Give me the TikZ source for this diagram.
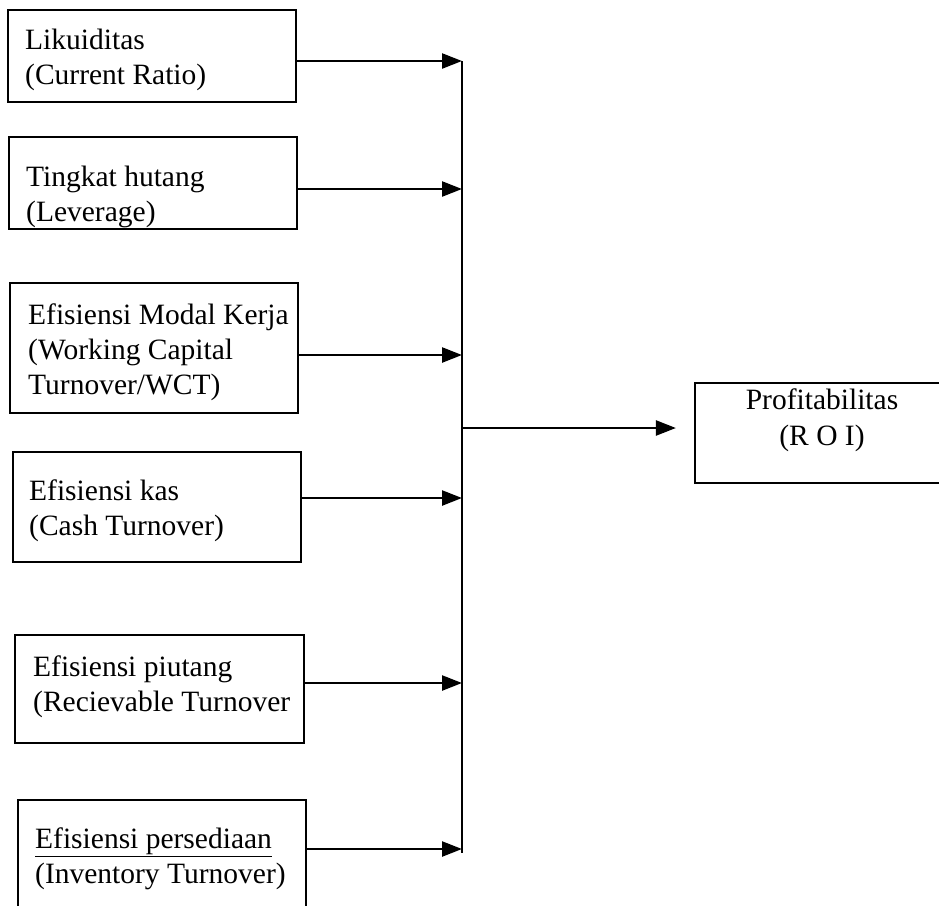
\documentclass[tikz,border=0pt]{standalone}
\usepackage{fontspec}
\setmainfont{Liberation Serif}
\usetikzlibrary{arrows.meta,calc}
\begin{document}
\begin{tikzpicture}[x=1pt,y=-1pt,
  boxnode/.style={draw,line width=2.2pt,inner sep=0pt},
  txt/.style={inner sep=0pt,anchor=west,align=left,font=\fontsize{29.5}{35}\selectfont},
  ctxt/.style={inner sep=0pt,align=center,font=\fontsize{29.5}{36}\selectfont},
  conn/.style={line width=2.4pt,-{Triangle[length=20pt,width=15pt]}},
  bus/.style={line width=2.4pt}]
\useasboundingbox (0,0) rectangle (939,905);
\clip (0,0) rectangle (939,905);
% boxes
\node[boxnode,minimum width=288pt,minimum height=92pt] (b1) at (152,56) {};
\node[boxnode,minimum width=288pt,minimum height=92pt] (b2) at (153,183) {};
\node[boxnode,minimum width=288pt,minimum height=130pt] (b3) at (154,348) {};
\node[boxnode,minimum width=288pt,minimum height=110pt] (b4) at (157,507) {};
\node[boxnode,minimum width=289pt,minimum height=108pt] (b5) at (159.5,689) {};
\node[boxnode,minimum width=288pt,minimum height=115pt] (b6) at (162,857.5) {};
\node[boxnode,minimum width=255pt,minimum height=100pt] (p) at (822.5,433) {};
% texts
\node[txt] (t1) at (25,60) {Likuiditas\\(Current Ratio)};
\node[txt] (t2) at (26,197) {Tingkat hutang\\(Leverage)};
\node[txt] (t3) at (28,352) {Efisiensi Modal Kerja\\(Working Capital\\Turnover/WCT)};
\node[txt] (t4) at (29,511) {Efisiensi kas\\(Cash Turnover)};
\node[txt] (t5) at (33,687) {Efisiensi piutang\\(Recievable Turnover};
\node[txt] (t6) at (35,859) {\underline{Efisiensi persediaan}\\(Inventory Turnover)};
\node[ctxt] (tp) at (822,420) {Profitabilitas\\(R O I)};
% bus junctions
\coordinate (j1) at (462,61);
\coordinate (j2) at (462,189);
\coordinate (j3) at (462,355);
\coordinate (j4) at (462,498);
\coordinate (j5) at (462,683);
\coordinate (j6) at (462,849);
\coordinate (jend) at (462,853);
\coordinate (jm) at (462,428);
% connectors
\draw[bus] (j1) -- (jend);
\draw[conn] (b1.east |- j1) -- (j1);
\draw[conn] (b2.east |- j2) -- (j2);
\draw[conn] (b3.east |- j3) -- (j3);
\draw[conn] (b4.east |- j4) -- (j4);
\draw[conn] (b5.east |- j5) -- (j5);
\draw[conn] (b6.east |- j6) -- (j6);
\draw[conn,shorten >=18pt] (jm) -- (p.west |- jm);
\end{tikzpicture}
\end{document}
